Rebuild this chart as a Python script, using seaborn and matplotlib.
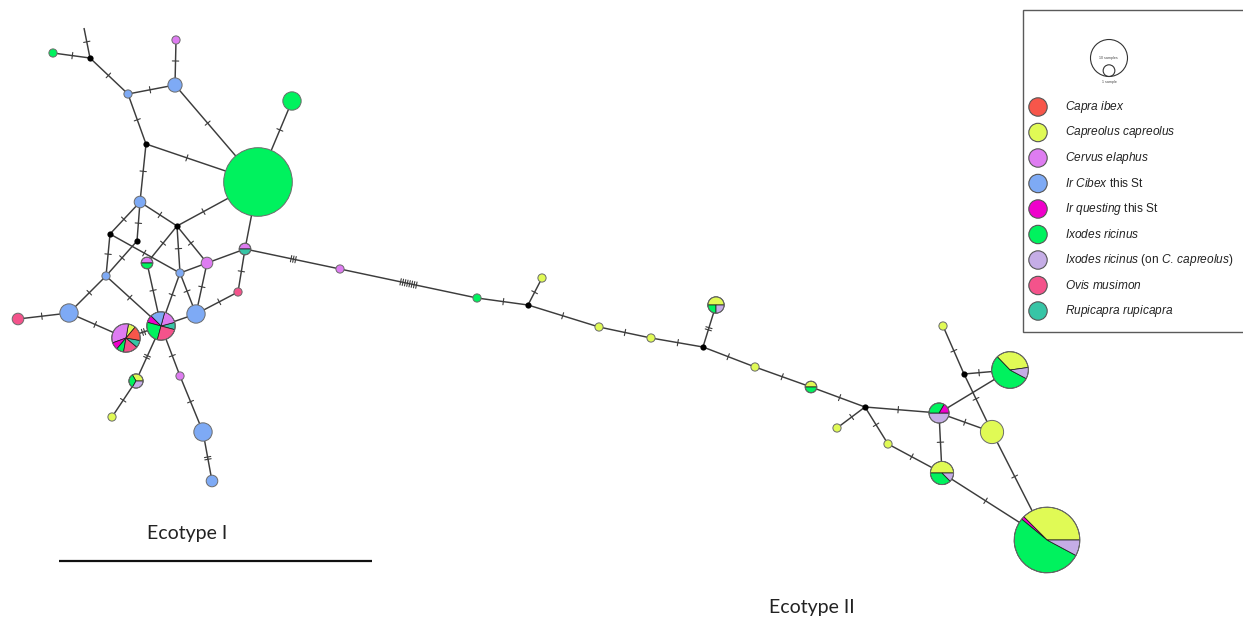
import numpy as np
import pandas as pd
import matplotlib
matplotlib.use("Agg")
import matplotlib.pyplot as plt
from matplotlib.patches import Wedge, Circle, Rectangle
import seaborn as sns

# ---------------------------------------------------------------- data
species = ["Capra ibex", "Capreolus capreolus", "Cervus elaphus",
           "Ir Cibex this St", "Ir questing this St", "Ixodes ricinus",
           "Ixodes ricinus (on C. capreolus)", "Ovis musimon",
           "Rupicapra rupicapra"]
species_labels = [r"$\mathit{Capra\ ibex}$",
                  r"$\mathit{Capreolus\ capreolus}$",
                  r"$\mathit{Cervus\ elaphus}$",
                  r"$\mathit{Ir\ Cibex}$ this St",
                  r"$\mathit{Ir\ questing}$ this St",
                  r"$\mathit{Ixodes\ ricinus}$",
                  r"$\mathit{Ixodes\ ricinus}$ (on $\mathit{C.\,capreolus}$)",
                  r"$\mathit{Ovis\ musimon}$",
                  r"$\mathit{Rupicapra\ rupicapra}$"]
species_hex = ["#f7564a", "#e0fa55", "#de7cf1", "#7eaaf5", "#ef00cb",
               "#00f25e", "#c5ade6", "#f4538b", "#37c5a6"]

# haplotypes: network layout position and sample composition per host/source
hap_id = [f"H{i}" for i in range(1, 40)]
hap_x = [53, 128, 175, 176, 258, 292, 140, 147, 106, 180,
         207, 245, 238, 196, 69, 18, 126, 161, 136, 112,
         180, 203, 212, 340, 477, 542, 599, 651, 716, 755,
         811, 837, 888, 939, 942, 992, 943, 1010, 1047]
hap_y = [53, 94, 85, 40, 182, 101, 202, 263, 276, 273,
         263, 249, 292, 314, 313, 319, 338, 326, 381, 417,
         376, 432, 481, 269, 298, 278, 327, 338, 305, 367,
         387, 428, 444, 413, 473, 432, 326, 370, 540]
hap_composition = [
    {"Ixodes ricinus": 1},
    {"Ir Cibex this St": 1},
    {"Ir Cibex this St": 3},
    {"Cervus elaphus": 1},
    {"Ixodes ricinus": 70},
    {"Ixodes ricinus": 5},
    {"Ir Cibex this St": 2},
    {"Cervus elaphus": 1, "Ixodes ricinus": 1},
    {"Ir Cibex this St": 1},
    {"Ir Cibex this St": 1},
    {"Cervus elaphus": 2},
    {"Cervus elaphus": 1, "Rupicapra rupicapra": 1},
    {"Ovis musimon": 1},
    {"Ir Cibex this St": 5},
    {"Ir Cibex this St": 5},
    {"Ovis musimon": 2},
    {"Capreolus capreolus": 1, "Cervus elaphus": 4, "Ir questing this St": 1,
     "Ixodes ricinus": 1, "Ovis musimon": 2, "Rupicapra rupicapra": 1,
     "Capra ibex": 2},
    {"Rupicapra rupicapra": 1, "Cervus elaphus": 2, "Ir Cibex this St": 2,
     "Ir questing this St": 1, "Ixodes ricinus": 3, "Ovis musimon": 3},
    {"Capreolus capreolus": 1, "Ixodes ricinus": 1,
     "Ixodes ricinus (on C. capreolus)": 1},
    {"Capreolus capreolus": 1},
    {"Cervus elaphus": 1},
    {"Ir Cibex this St": 5},
    {"Ir Cibex this St": 2},
    {"Cervus elaphus": 1},
    {"Ixodes ricinus": 1},
    {"Capreolus capreolus": 1},
    {"Capreolus capreolus": 1},
    {"Capreolus capreolus": 1},
    {"Capreolus capreolus": 2, "Ixodes ricinus": 1,
     "Ixodes ricinus (on C. capreolus)": 1},
    {"Capreolus capreolus": 1},
    {"Capreolus capreolus": 1, "Ixodes ricinus": 1},
    {"Capreolus capreolus": 1},
    {"Capreolus capreolus": 1},
    {"Ixodes ricinus (on C. capreolus)": 3, "Ir questing this St": 1,
     "Ixodes ricinus": 2},
    {"Capreolus capreolus": 4, "Ixodes ricinus": 3,
     "Ixodes ricinus (on C. capreolus)": 1},
    {"Capreolus capreolus": 8},
    {"Capreolus capreolus": 1},
    {"Capreolus capreolus": 7, "Ixodes ricinus": 11,
     "Ixodes ricinus (on C. capreolus)": 2},
    {"Capreolus capreolus": 24, "Ir questing this St": 1,
     "Ixodes ricinus": 34, "Ixodes ricinus (on C. capreolus)": 5},
]
# first wedge angle (degrees, counter-clockwise from east) of each pie
hap_start_angle = [0, 0, 0, 0, 0, 0, 0, 0, 0, 0,
                   0, 0, 0, 0, 0, 0, 50, -15, 0, 0,
                   0, 0, 0, 0, 0, 0, 0, 0, 0, 0,
                   0, 0, 0, 180, 0, 0, 0, 8, 0]

# inferred median vectors
med_id = ["M1", "M2", "M3", "M4", "M5", "M6", "M7", "M8", "M9"]
med_x = [90, 146, 177, 110, 137, 528, 703, 865, 964]
med_y = [58, 144, 226, 234, 241, 305, 347, 407, 374]

# branch leaving the drawing area
open_id = ["X1"]
open_x = [84]
open_y = [28]

# network links and number of mutational steps on each
edge_from = ["H1", "M1", "M1", "H2", "H3", "H3", "H2", "M2", "M2", "H6",
             "H7", "M3", "H7", "H7", "M4", "M4", "M5", "M3", "M3", "M3",
             "H8", "H10", "H10", "H10", "H11", "H11", "H12", "H12", "H13",
             "H14", "H9", "H9", "H15", "H15", "H17", "H18", "H19", "H18",
             "H21", "H22", "H12", "H24", "H25", "M6", "M6", "H27", "H28",
             "M7", "M7", "H30", "H31", "M8", "M8", "M8", "H33", "H34",
             "H34", "H34", "M9", "M9", "M9", "H36", "H35"]
edge_to = ["M1", "X1", "H2", "H3", "H4", "H5", "M2", "H5", "H7", "H5",
           "M3", "H5", "M4", "M5", "H9", "H10", "H9", "H8", "H10", "H11",
           "H18", "H18", "H11", "H14", "H14", "H12", "H5", "H13", "H14",
           "H18", "H15", "H18", "H16", "H17", "H18", "H19", "H20", "H21",
           "H22", "H23", "H24", "H25", "M6", "H26", "H27", "H28", "M7",
           "H29", "H30", "H31", "M8", "H32", "H33", "H34", "H35", "H35",
           "H36", "H38", "H38", "H37", "H36", "H39", "H39"]
edge_steps = [1, 1, 1, 1, 1, 1, 1, 1, 1, 1,
              1, 1, 1, 1, 1, 1, 1, 1, 1, 1,
              1, 1, 0, 1, 1, 0, 0, 1, 1,
              0, 1, 1, 1, 1, 2, 2, 1, 1,
              1, 2, 3, 8, 1, 1, 1, 1, 1,
              2, 1, 1, 1, 1, 1, 1, 1, 1,
              1, 0, 1, 1, 1, 1, 1]

size_key_counts = [10, 1]
size_key_labels = ["10 samples", "1 sample"]
group_labels = ["Ecotype I", "Ecotype II"]

# ---------------------------------------------------------------- style
sns.set_theme(style="white")
plt.rcParams["font.family"] = ["Liberation Sans", "DejaVu Sans"]
plt.rcParams["mathtext.fontset"] = "custom"
plt.rcParams["mathtext.rm"] = "Liberation Sans"
plt.rcParams["mathtext.it"] = "Liberation Sans:italic"

palette = dict(zip(species, sns.color_palette(species_hex)))
R_UNIT = 4.1          # node radius for a single sample
EDGE_C = "#3c3c3c"

nodes = pd.DataFrame({
    "id": hap_id + med_id + open_id,
    "x": hap_x + med_x + open_x,
    "y": hap_y + med_y + open_y,
    "kind": ["hap"] * len(hap_id) + ["median"] * len(med_id) + ["open"] * len(open_id),
})
nodes["n"] = [sum(c.values()) for c in hap_composition] + [0] * (len(med_id) + len(open_id))
nodes["r"] = np.where(nodes["kind"] == "hap", R_UNIT * np.sqrt(nodes["n"]),
                      np.where(nodes["kind"] == "median", 2.4, 0.0))
nodes = nodes.set_index("id")

edges = pd.DataFrame({"a": edge_from, "b": edge_to, "steps": edge_steps})

fig = plt.figure(figsize=(12.43, 6.36), dpi=100)
ax = fig.add_axes([0, 0, 1, 1])
ax.set_xlim(0, 1243)
ax.set_ylim(636, 0)
ax.set_aspect("equal")
ax.axis("off")

# links and mutation hatch marks
for _, e in edges.iterrows():
    pa, pb = nodes.loc[e.a], nodes.loc[e.b]
    p1 = np.array([pa.x, pa.y], float)
    p2 = np.array([pb.x, pb.y], float)
    ax.plot([p1[0], p2[0]], [p1[1], p2[1]], color=EDGE_C, lw=1.05, zorder=1,
            solid_capstyle="butt")
    if e.steps > 0:
        d = p2 - p1
        L = np.hypot(*d)
        u = d / L
        v = np.array([-u[1], u[0]])
        s1, s2 = pa.r, L - pb.r
        mid = p1 + u * (s1 + s2) / 2
        for i in range(e.steps):
            c = mid + u * (i - (e.steps - 1) / 2) * 2.3
            q1, q2 = c - v * 3.2, c + v * 3.2
            ax.plot([q1[0], q2[0]], [q1[1], q2[1]], color=EDGE_C, lw=0.8, zorder=2)


def draw_pie(cx, cy, r, comp, start, z=3):
    total = sum(comp.values())
    if len(comp) == 1:
        sp = next(iter(comp))
        ax.add_patch(Circle((cx, cy), r, facecolor=palette[sp],
                            edgecolor="#6b6b6b", lw=0.7, zorder=z))
        return
    a = start
    for sp, c in comp.items():
        span = 360.0 * c / total
        # y axis points down, so screen angles are mirrored
        ax.add_patch(Wedge((cx, cy), r, -(a + span), -a, facecolor=palette[sp],
                           edgecolor="#1e1e1e", lw=0.55, zorder=z))
        a += span
    ax.add_patch(Circle((cx, cy), r, fill=False, edgecolor="#6b6b6b",
                        lw=0.7, zorder=z + 0.1))


for hid, comp, st in zip(hap_id, hap_composition, hap_start_angle):
    nd = nodes.loc[hid]
    draw_pie(nd.x, nd.y, nd.r, comp, st)

med = nodes[nodes["kind"] == "median"]
sns.scatterplot(data=med, x="x", y="y", color="black", s=20, linewidth=0,
                ax=ax, zorder=4, legend=False)
ax.set_xlim(0, 1243)
ax.set_ylim(636, 0)
ax.axis("off")

# ---------------------------------------------------------------- legend
ax.add_patch(Rectangle((1023, 10), 240, 322, facecolor="white",
                       edgecolor="#5a5a5a", lw=1.0, zorder=5))
key_r_big = 18.5
key_r = [key_r_big * np.sqrt(c / size_key_counts[0]) for c in size_key_counts]
key_bottom = 76.5
for rr in key_r:
    ax.add_patch(Circle((1109, key_bottom - rr), rr, fill=False,
                        edgecolor="#333333", lw=0.8, zorder=6))
ax.text(1108, key_bottom - key_r[0], size_key_labels[0], fontsize=2.6,
        ha="center", va="center", color="#444444", zorder=7)
ax.text(1109, key_bottom + 6, size_key_labels[1], fontsize=2.6,
        ha="center", va="center", color="#444444", zorder=7)

row0, row_step = 107, 25.5
for i, (sp, lab) in enumerate(zip(species, species_labels)):
    yy = row0 + i * row_step
    ax.add_patch(Circle((1038, yy), 9.2, facecolor=palette[sp],
                        edgecolor="#555555", lw=0.8, zorder=6))
    ax.text(1065, yy, lab, fontsize=8.6, ha="left", va="center",
            color="#222222", zorder=7)

# ---------------------------------------------------------------- group labels
ax.text(187, 534, group_labels[0], fontsize=14, family="Lato",
        ha="center", va="center", color="#222222")
ax.plot([59, 372], [561, 561], color="#111111", lw=1.6, solid_capstyle="butt")
ax.text(812, 608, group_labels[1], fontsize=14, family="Lato",
        ha="center", va="center", color="#222222")

fig.savefig("out.png", dpi=100)
